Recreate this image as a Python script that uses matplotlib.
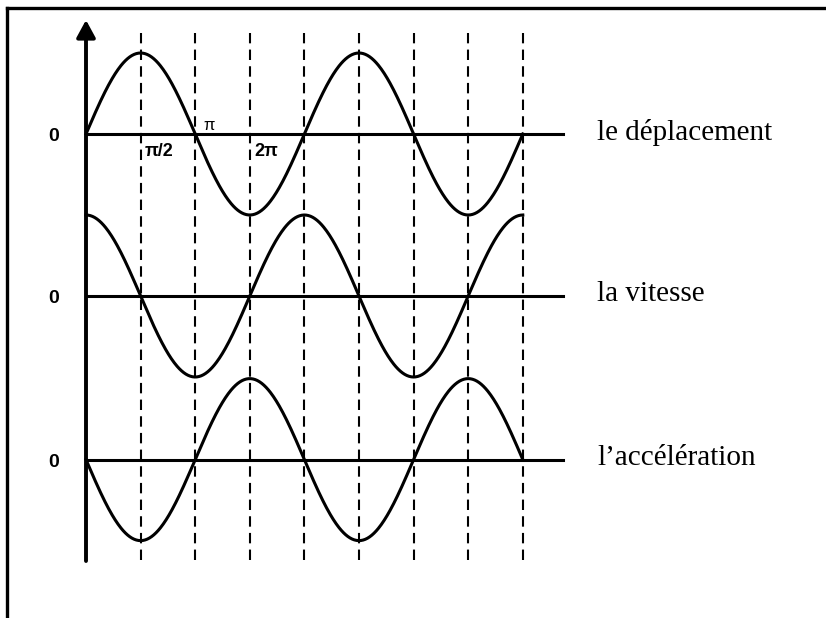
"""
plot.py

déplacement / vitesse / accélération : sinusoïdes déphasées de pi/2
"""
import numpy as np
import matplotlib
matplotlib.use("Agg")
import matplotlib.pyplot as plt
from matplotlib.lines import Line2D

# data
curve_names = ["le déplacement", "la vitesse", "l’accélération"]
curve_phases = [0.0, np.pi / 2, np.pi]      # sin(t), cos(t), -sin(t)
curve_offsets = [0.0, -2.0, -4.02]          # zero line of each curve
amplitude = 1.0
t_end = 4 * np.pi                           # two periods

guide_steps = [1, 2, 3, 4, 5, 6, 7, 8]      # dashed lines at k * pi/2
tick_labels = ["π/2", "π", "2π"]
tick_steps = [1, 2, 3]

# pixel -> data scale (826 x 618 picture)
W, H = 826, 618
x0_px, y0_px = 86, 134
sx, sy = 34.76, 81.0


def px_x(px):
    return (px - x0_px) / sx


def px_y(px):
    return (y0_px - px) / sy


fig = plt.figure(figsize=(W / 100, H / 100), dpi=100)
ax = fig.add_axes([0, 0, 1, 1])
ax.set_xlim(px_x(0), px_x(W))
ax.set_ylim(px_y(H), px_y(0))
ax.axis("off")

# frame (top and left only)
fig.add_artist(Line2D([7 / W, 1], [1 - 8 / H, 1 - 8 / H], transform=fig.transFigure,
                      color="black", lw=2.4))
fig.add_artist(Line2D([7 / W, 7 / W], [0, 1 - 8 / H], transform=fig.transFigure,
                      color="black", lw=2.4))

# dashed guides
for k in guide_steps:
    ax.plot([k * np.pi / 2] * 2, [px_y(560), px_y(33)], color="black", lw=1.5,
            ls=(0, (5, 3)))

# vertical axis with arrow
ax.annotate("", xy=(0, px_y(20)), xytext=(0, px_y(561)),
            arrowprops=dict(arrowstyle="-|>,head_length=0.7,head_width=0.38",
                            mutation_scale=15, lw=2.8, color="black",
                            shrinkA=0, shrinkB=0))

t = np.linspace(0, t_end, 600)
for name, ph, off in zip(curve_names, curve_phases, curve_offsets):
    ax.plot([0, px_x(563)], [off, off], color="black", lw=2.2)
    ax.plot(t, off + amplitude * np.sin(t + ph), color="black", lw=2.2)
    ax.text(px_x(54), off - 0.03, "0", ha="center", va="center",
            fontsize=14, fontweight="bold", family="Liberation Sans")
    ax.text(px_x(597), off + 0.02, name, ha="left", va="center",
            fontsize=21, family="Liberation Serif")

# phase labels on the first curve
tick_dx = [4, 8, 5]
tick_dy = [17, -9, 17]
for lab, k, dx, dy in zip(tick_labels, tick_steps, tick_dx, tick_dy):
    xk = k * np.pi / 2
    ax.text(xk + dx / sx, curve_offsets[0] - dy / sy, lab, ha="left", va="center",
            fontsize=13 if lab != "π" else 12,
            fontweight="bold" if lab != "π" else "normal",
            family="Liberation Sans")

fig.savefig("out.png", dpi=100)
